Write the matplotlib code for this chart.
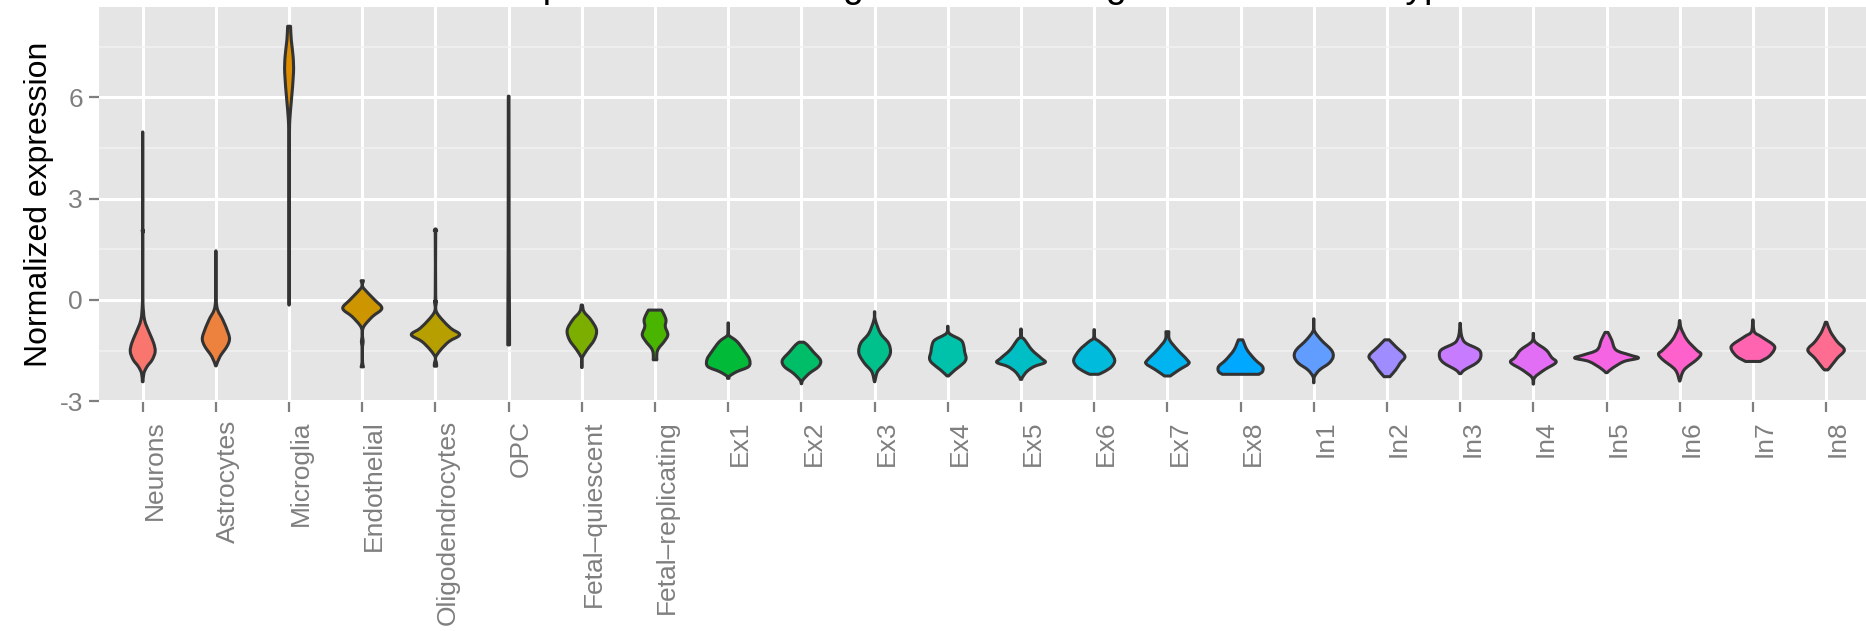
import matplotlib
matplotlib.use("Agg")
import matplotlib.pyplot as plt
import numpy as np
from matplotlib.path import Path
from matplotlib.patches import PathPatch

plt.rcParams['font.family'] = ['Liberation Sans', 'DejaVu Sans']

title = "Expression of CD33 gene across single-cell brain cell types"

cell_types = ["Neurons", "Astrocytes", "Microglia", "Endothelial", "Oligodendrocytes",
              "OPC", "Fetal\u2013quiescent", "Fetal\u2013replicating",
              "Ex1", "Ex2", "Ex3", "Ex4", "Ex5", "Ex6", "Ex7", "Ex8",
              "In1", "In2", "In3", "In4", "In5", "In6", "In7", "In8"]

# violin outlines: expression levels (bottom -> top)
# and the half width of the violin at each level (in category units)
violin_y = [
    [-2.42, -2.17, -1.97, -1.77, -1.53, -1.28, -0.99, -0.59, -0.1, 0.49, 1.9, 2.07, 2.25, 4.97],
    [-1.95, -1.68, -1.38, -1.18, -0.99, -0.59, -0.3, 0.0, 0.5, 1.45],
    [-0.15, 3.0, 3.95, 4.93, 5.4, 5.92, 6.71, 7.2, 7.69, 8.1],
    [-1.98, -1.85, -1.55, -1.38, -1.23, -1.08, -0.89, -0.74, -0.49, -0.25, 0.0, 0.2, 0.4, 0.57],
    [-1.96, -1.87, -1.7, -1.48, -1.23, -1.03, -0.84, -0.59, -0.4, -0.25, -0.05, 0.15, 1.92, 2.05],
    [-1.33, -1.0, 0.0, 1.5, 3.0, 6.03],
    [-2.0, -1.75, -1.68, -1.48, -1.18, -0.89, -0.59, -0.35, -0.15],
    [-1.77, -1.58, -1.43, -1.23, -1.03, -0.79, -0.6, -0.44, -0.3],
    [-2.32, -2.25, -2.12, -1.97, -1.76, -1.53, -1.23, -1.04, -0.9, -0.68],
    [-2.48, -2.37, -2.17, -1.97, -1.78, -1.53, -1.33, -1.25],
    [-2.42, -2.12, -1.87, -1.58, -1.28, -0.99, -0.59, -0.35],
    [-2.25, -2.07, -1.87, -1.73, -1.53, -1.33, -1.18, -0.99, -0.78],
    [-2.35, -2.29, -2.12, -1.97, -1.85, -1.73, -1.48, -1.18, -1.08, -0.86],
    [-2.2, -2.12, -1.97, -1.77, -1.48, -1.23, -1.13, -0.88],
    [-2.25, -2.07, -1.89, -1.77, -1.48, -1.18, -0.94],
    [-2.2, -2.12, -1.97, -1.77, -1.48, -1.18],
    [-2.45, -2.27, -2.07, -1.87, -1.68, -1.48, -1.18, -0.89, -0.56],
    [-2.27, -2.07, -1.87, -1.66, -1.38, -1.18],
    [-2.18, -2.07, -1.87, -1.70, -1.48, -1.28, -1.13, -0.94, -0.69],
    [-2.49, -2.29, -2.07, -1.85, -1.70, -1.48, -1.23, -0.99],
    [-2.15, -2.02, -1.82, -1.72, -1.63, -1.48, -1.18, -0.96],
    [-2.4, -2.07, -1.77, -1.60, -1.48, -1.18, -0.84, -0.61],
    [-1.82, -1.68, -1.48, -1.33, -1.08, -0.94, -0.59],
    [-2.07, -2.02, -1.73, -1.48, -1.23, -0.94, -0.66],
]
violin_w = [
    [0.005, 0.016, 0.06, 0.13, 0.17, 0.15, 0.095, 0.025, 0.004, 0.002, 0.002, 0.006, 0.002, 0.002],
    [0.004, 0.055, 0.15, 0.185, 0.17, 0.095, 0.025, 0.004, 0.002, 0.002],
    [0.002, 0.002, 0.003, 0.005, 0.012, 0.032, 0.06, 0.055, 0.03, 0.02],
    [0.016, 0.004, 0.002, 0.003, 0.012, 0.003, 0.004, 0.035, 0.14, 0.267, 0.17, 0.08, 0.004, 0.016],
    [0.016, 0.014, 0.002, 0.07, 0.185, 0.33, 0.21, 0.095, 0.025, 0.003, 0.012, 0.003, 0.003, 0.016],
    [0.012, 0.012, 0.01, 0.007, 0.006, 0.005],
    [0.003, 0.003, 0.012, 0.07, 0.17, 0.2, 0.125, 0.03, 0.008],
    [0.025, 0.025, 0.05, 0.125, 0.175, 0.14, 0.15, 0.125, 0.09],
    [0.01, 0.02, 0.12, 0.28, 0.29, 0.225, 0.12, 0.006, 0.003, 0.003],
    [0.003, 0.02, 0.11, 0.235, 0.26, 0.16, 0.08, 0.03],
    [0.003, 0.04, 0.14, 0.215, 0.19, 0.08, 0.01, 0.003],
    [0.01, 0.1, 0.215, 0.25, 0.23, 0.215, 0.175, 0.02, 0.003],
    [0.01, 0.02, 0.08, 0.18, 0.33, 0.28, 0.15, 0.05, 0.005, 0.003],
    [0.06, 0.14, 0.24, 0.28, 0.2, 0.07, 0.01, 0.003],
    [0.04, 0.16, 0.29, 0.27, 0.14, 0.03, 0.02],
    [0.25, 0.3, 0.3, 0.2, 0.09, 0.03],
    [0.003, 0.01, 0.08, 0.21, 0.265, 0.24, 0.1, 0.005, 0.003],
    [0.04, 0.12, 0.18, 0.245, 0.12, 0.03],
    [0.01, 0.06, 0.22, 0.28, 0.26, 0.08, 0.03, 0.01, 0.003],
    [0.003, 0.02, 0.15, 0.31, 0.25, 0.175, 0.02, 0.003],
    [0.01, 0.08, 0.24, 0.435, 0.32, 0.13, 0.07, 0.02],
    [0.003, 0.06, 0.23, 0.29, 0.23, 0.1, 0.02, 0.003],
    [0.1, 0.215, 0.29, 0.28, 0.11, 0.02, 0.003],
    [0.02, 0.045, 0.15, 0.25, 0.15, 0.06, 0.01],
]

y_ticks = [-3, 0, 3, 6]


def hcl_hex(h, c=100.0, l=65.0):
    # ggplot's default hue palette (polar CIE-Luv -> sRGB)
    hr = np.deg2rad(h)
    U, V = c * np.cos(hr), c * np.sin(hr)
    Xn, Yn, Zn = 95.047, 100.0, 108.883
    un = 4 * Xn / (Xn + 15 * Yn + 3 * Zn)
    vn = 9 * Yn / (Xn + 15 * Yn + 3 * Zn)
    Y = Yn * ((l + 16) / 116) ** 3
    u = U / (13 * l) + un
    v = V / (13 * l) + vn
    X = 9 * Y * u / (4 * v)
    Z = Y * (12 - 3 * u - 20 * v) / (4 * v)
    X, Y, Z = X / 100, Y / 100, Z / 100
    rgb = np.array([3.240479 * X - 1.537150 * Y - 0.498535 * Z,
                    -0.969256 * X + 1.875992 * Y + 0.041556 * Z,
                    0.055648 * X - 0.204043 * Y + 1.057311 * Z])
    rgb = np.where(rgb > 0.00304, 1.055 * np.abs(rgb) ** (1 / 2.4) - 0.055, 12.92 * rgb)
    rgb = np.clip(rgb, 0, 1)
    return matplotlib.colors.to_hex(rgb)


def side(pts):
    # smooth curve through the outline points (Catmull-Rom as cubic Beziers)
    n = len(pts)
    verts, codes = [], []
    for i in range(n - 1):
        p0 = pts[i - 1] if i > 0 else pts[i]
        p1, p2 = pts[i], pts[i + 1]
        p3 = pts[i + 2] if i + 2 < n else pts[i + 1]
        verts += [p1 + (p2 - p0) / 6, p2 - (p3 - p1) / 6, p2]
        codes += [Path.CURVE4] * 3
    return verts, codes


fig = plt.figure(figsize=(18.66, 6.31), dpi=100)
W, H = 1866.0, 631.0
ax = fig.add_axes([98.8 / W, (H - 402) / H, (1870 - 98.8) / W, (402 - 7) / H])
ax.set_facecolor('#E5E5E5')
for s in ax.spines.values():
    s.set_visible(False)

n = len(cell_types)
colors = [hcl_hex(15 + 360.0 * i / n) for i in range(n)]

for i, (ys, ws) in enumerate(zip(violin_y, violin_w)):
    x0 = i + 1
    ys = np.array(ys)
    ws = np.array(ws)
    right = np.column_stack([x0 + ws, ys])
    left = np.column_stack([x0 - ws, ys])[::-1]
    rv, rc = side(right)
    lv, lc = side(left)
    verts = [right[0]] + rv + [left[0]] + lv + [right[0]]
    codes = [Path.MOVETO] + rc + [Path.LINETO] + lc + [Path.CLOSEPOLY]
    patch = PathPatch(Path(verts, codes), facecolor=colors[i], edgecolor='#333333',
                      lw=2.2, joinstyle='round', zorder=3)
    ax.add_patch(patch)

ax.set_xlim(0.4, n + 0.6)
ax.set_ylim(-3.02, 8.67)
ax.set_xticks(np.arange(1, n + 1))
ax.set_xticklabels(cell_types, rotation=90, ha='left', va='top',
                   fontsize=19, color='#7F7F7F')
ax.set_yticks(y_ticks)
ax.set_yticklabels([str(t) for t in y_ticks], fontsize=19, color='#7F7F7F')
ax.set_yticks([-1.5, 1.5, 4.5, 7.5], minor=True)
ax.tick_params(axis='both', which='major', length=7.5, width=1.6, color='#7F7F7F')
ax.tick_params(axis='x', pad=5.5)
ax.tick_params(axis='y', pad=4)
ax.tick_params(axis='y', which='minor', length=0)
ax.grid(which='major', color='white', lw=2.2, zorder=0)
ax.grid(which='minor', axis='y', color='#F2F2F2', lw=1.1, zorder=0)
ax.set_axisbelow(True)

ax.set_ylabel("Normalized expression", fontsize=23, color='black', labelpad=4)

fig.text(499 / W, 1 + 3 / H, title, ha='left', va='baseline', fontsize=27)

fig.savefig("out.png", dpi=100)
